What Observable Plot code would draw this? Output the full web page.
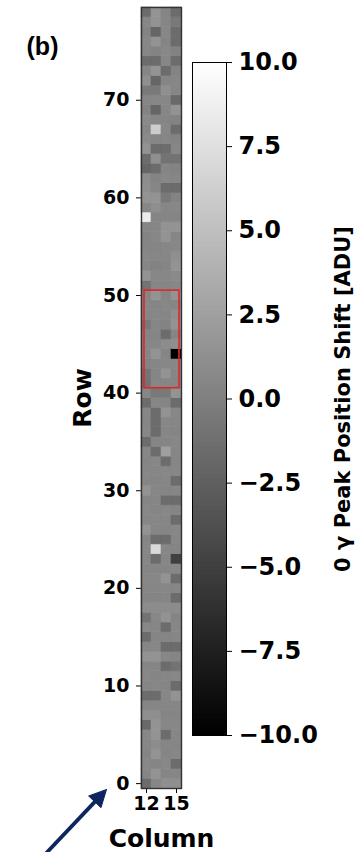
<!DOCTYPE html>
<html>
<head>
<meta charset="utf-8">
<script src="https://cdn.jsdelivr.net/npm/d3@7"></script>
<script src="https://cdn.jsdelivr.net/npm/@observablehq/plot@0.6"></script>
<style>
  html, body { margin: 0; padding: 0; background: #fff; }
  #wrap { position: relative; width: 357px; height: 852px; overflow: hidden; }
  #wrap svg { position: absolute; left: 0; top: 0; overflow: visible; }
</style>
</head>
<body>
<div id="wrap"></div>
<script>
// Peak position shift (ADU) per pixel, one array per detector column, indexed by row 0..79
const columns = [12, 13, 14, 15];
const col12 = [-1.5, 0.5, 0.6, 0.4, 0.5, 0.6, -1.8, 1.2, 0.4, -1.5,
  0.5, 0.6, 0.4, 1.5, 0.5, -1.5, 0.6, -1.0, 1.0, 0.4,
  0.5, 0.6, 0.4, 0.5, 0.6, 0.4, 1.5, 0.5, 0.6, 0.4,
  1.5, 0.5, 0.6, 0.4, 0.5, -1.5, 0.6, 0.4, 0.5, -1.5,
  0.5, -1.0, -0.8, 0.3, 0.5, 0.6, 0.4, -0.5, 0.5, 0.6,
  0.4, -1.0, 1.5, 0.5, 0.6, 0.4, 0.3, 0.5, 8.5, 0.6,
  1.5, 1.2, 1.0, -2.0, -1.5, 1.5, 0.8, 0.5, 0.8, 0.3,
  0.5, -0.5, 1.2, 0.5, -1.5, 0.5, 0.6, 0.3, 0.5, -1.5];
const col13 = [0.5, 1.5, 0.4, 1.5, 1.0, 1.5, 1.5, 1.2, 0.5, -1.5,
  0.6, 0.4, 0.5, 1.5, 0.6, 0.4, 0.5, 0.6, 1.0, 0.4,
  0.5, 0.6, 0.4, -1.5, 7.0, -1.5, 0.5, 0.6, 0.4, 0.5,
  0.6, 0.4, 0.5, 0.6, -1.5, 0.4, -1.5, -1.5, -1.5, 0.5,
  -0.5, 0.6, 0.4, 0.5, 1.5, 0.6, 0.4, 0.5, 0.6, 0.4,
  1.5, 0.5, 0.6, 0.3, 0.5, 0.4, 0.6, 0.5, 0.4, 1.2,
  1.5, 0.5, 0.3, -1.5, 1.2, -1.5, 0.5, 6.0, 0.5, -2.0,
  0.6, -0.5, -2.0, 1.5, -1.5, 0.3, 1.5, -2.0, 1.5, 1.5];
const col14 = [1.2, 0.5, 0.6, 0.4, 0.5, -1.5, 0.6, 0.4, 0.5, 0.6,
  0.4, 0.5, -1.5, 0.6, -1.5, 0.4, -1.5, 1.5, 1.0, 0.5,
  0.6, 1.5, 0.4, 0.5, 0.6, -1.5, 0.4, 0.5, 0.6, -1.5,
  0.4, 0.5, 0.6, -1.5, 2.5, 0.4, 0.5, 0.6, 1.5, 0.4,
  -0.5, 0.5, 1.5, 0.6, 0.4, 1.0, -1.5, 0.3, 0.5, 0.6,
  0.4, 0.5, 0.6, 0.4, 0.5, 0.6, 1.5, 1.5, 0.4, 0.5,
  -0.5, -1.5, 0.6, 0.4, -1.0, -1.5, 0.5, 0.6, 0.4, 0.5,
  0.6, 1.2, 0.4, -1.5, 0.5, 0.7, 0.4, 0.6, 0.5, 0.4];
const col15 = [1.2, 0.5, -1.5, 0.6, 0.4, 0.5, 0.6, 0.4, 0.5, 1.5,
  -1.5, 0.6, -1.0, 0.4, -1.5, 0.5, 0.6, 0.4, 1.0, -1.5,
  0.5, -1.5, 0.6, -5.0, 0.4, 0.5, 0.6, -1.5, 0.4, -1.5,
  0.5, -1.5, 0.6, 0.4, 0.5, 0.6, 0.4, 0.5, 0.6, -1.5,
  1.5, 0.4, 0.5, 0.6, -10.0, 1.2, 0.4, 1.5, 1.2, 0.5,
  1.5, 0.6, 0.8, 1.5, 1.2, 0.7, 0.5, 1.5, 0.4, 0.6,
  0.3, -1.5, 0.5, 0.3, -1.0, 0.5, 0.3, -1.5, 0.3, 1.5,
  -1.8, 0.5, 0.6, 0.3, -1.5, 0.2, -1.5, -1.5, -0.5, -1.5];

const rowTicks = [0, 10, 20, 30, 40, 50, 60, 70];
const columnTicks = [12, 15];
const shiftTicks = [-10, -7.5, -5, -2.5, 0, 2.5, 5, 7.5, 10];
const shiftDomain = [-10, 10];

// highlighted region (rows 41-50)
const region = [{x1: 11.8, x2: 15.3, y1: 40.5, y2: 50.5}];
// pointer towards the origin pixel
const pointer = {x1: 1.9, y1: -7.2, x2: 8.0, y2: -0.6};

const seriesByColumn = [col12, col13, col14, col15];
const cells = [];
columns.forEach((c, i) => seriesByColumn[i].forEach((v, r) => cells.push({column: c, row: r, value: v})));

// layout of the pixel map
const W = 357, H = 852;
const mL = 141, mR = 176, mT = 7, mB = 64;
const pxPerCol = (W - mL - mR) / columns.length;
const pxPerRow = (H - mT - mB) / 80;

// filled arrow head, built in data units from the pointer geometry
const dxp = (pointer.x2 - pointer.x1) * pxPerCol, dyp = (pointer.y2 - pointer.y1) * pxPerRow;
const len = Math.hypot(dxp, dyp), ux = dxp / len, uy = dyp / len;
const headLen = 17, headHalf = 8.5;
const base = {px: -ux * headLen, py: -uy * headLen};
const headPts = [
  [0, 0],
  [base.px - uy * headHalf, base.py + ux * headHalf],
  [base.px + uy * headHalf, base.py - ux * headHalf],
  [0, 0]
].map(([px, py]) => ({x: pointer.x2 + px / pxPerCol, y: pointer.y2 + py / pxPerRow}));
const shaft = [{x1: pointer.x1, y1: pointer.y1, x2: pointer.x2 - ux * (headLen - 2) / pxPerCol, y2: pointer.y2 - uy * (headLen - 2) / pxPerRow}];

const grey = {type: "linear", domain: shiftDomain, range: ["#000000", "#ffffff"], clamp: true};
const navy = "#0e2660";

const map = Plot.plot({
  width: W, height: H,
  marginLeft: mL, marginRight: mR, marginTop: mT, marginBottom: mB,
  style: {fontFamily: "DejaVu Sans", fontWeight: "bold", fontSize: "19px", color: "#000", background: "transparent"},
  x: {type: "linear", domain: [11.5, 15.5], ticks: columnTicks, tickFormat: d => String(d), tickSize: 5, tickPadding: 3, label: null},
  y: {type: "linear", domain: [-0.5, 79.5], ticks: rowTicks, tickFormat: d => String(d), tickSize: 5, tickPadding: 7, label: null},
  color: grey,
  marks: [
    Plot.rect(cells, {
      x1: d => d.column - 0.5, x2: d => d.column + 0.5,
      y1: d => d.row - 0.5, y2: d => d.row + 0.5,
      fill: "value", stroke: "value", strokeWidth: 0.6
    }),
    Plot.rect(region, {x1: "x1", x2: "x2", y1: "y1", y2: "y2", fill: "none", stroke: "#e0262c", strokeWidth: 1.6}),
    Plot.frame({stroke: "#333", strokeWidth: 1.4}),
    Plot.link(shaft, {x1: "x1", y1: "y1", x2: "x2", y2: "y2", stroke: navy, strokeWidth: 3.8}),
    Plot.line(headPts, {x: "x", y: "y", fill: navy, stroke: navy, strokeWidth: 1}),
    Plot.text(["Row"], {text: d => d, frameAnchor: "left", dx: -59, rotate: -90, textAnchor: "middle", lineAnchor: "middle", fontSize: 25, fontWeight: "bold"}),
    Plot.text(["Column"], {text: d => d, frameAnchor: "bottom", dy: 50, textAnchor: "middle", lineAnchor: "middle", fontSize: 25, fontWeight: "bold"}),
    Plot.text(["(b)"], {text: d => d, frameAnchor: "top-left", dx: -99, dy: 39, textAnchor: "middle", lineAnchor: "middle", fontSize: 25, fontWeight: "bold", fontFamily: "Liberation Sans"})
  ]
});

// colour bar
const step = 0.05;
const ramp = d3.range(shiftDomain[0], shiftDomain[1], step);
const bar = Plot.plot({
  width: W, height: H,
  marginLeft: 192, marginRight: 131, marginTop: 62, marginBottom: 117,
  style: {fontFamily: "DejaVu Sans", fontWeight: "bold", fontSize: "24px", color: "#000", background: "transparent"},
  x: {axis: null},
  y: {type: "linear", domain: shiftDomain, axis: "right", ticks: shiftTicks, tickFormat: d3.format(".1f"), tickSize: 5, tickPadding: 7, label: null},
  color: grey,
  marks: [
    Plot.rect(ramp, {y1: d => d, y2: d => d + step, fill: d => d + step / 2, insetTop: -0.4, insetBottom: -0.4}),
    Plot.frame({stroke: "#000", strokeWidth: 1}),
    Plot.text(["0 γ Peak Position Shift [ADU]"], {text: d => d, frameAnchor: "right", dx: 117, rotate: -90, textAnchor: "middle", lineAnchor: "middle", fontSize: 21, fontWeight: "bold"})
  ]
});

const wrap = document.getElementById("wrap");
wrap.appendChild(map);
wrap.appendChild(bar);
</script>
</body>
</html>
